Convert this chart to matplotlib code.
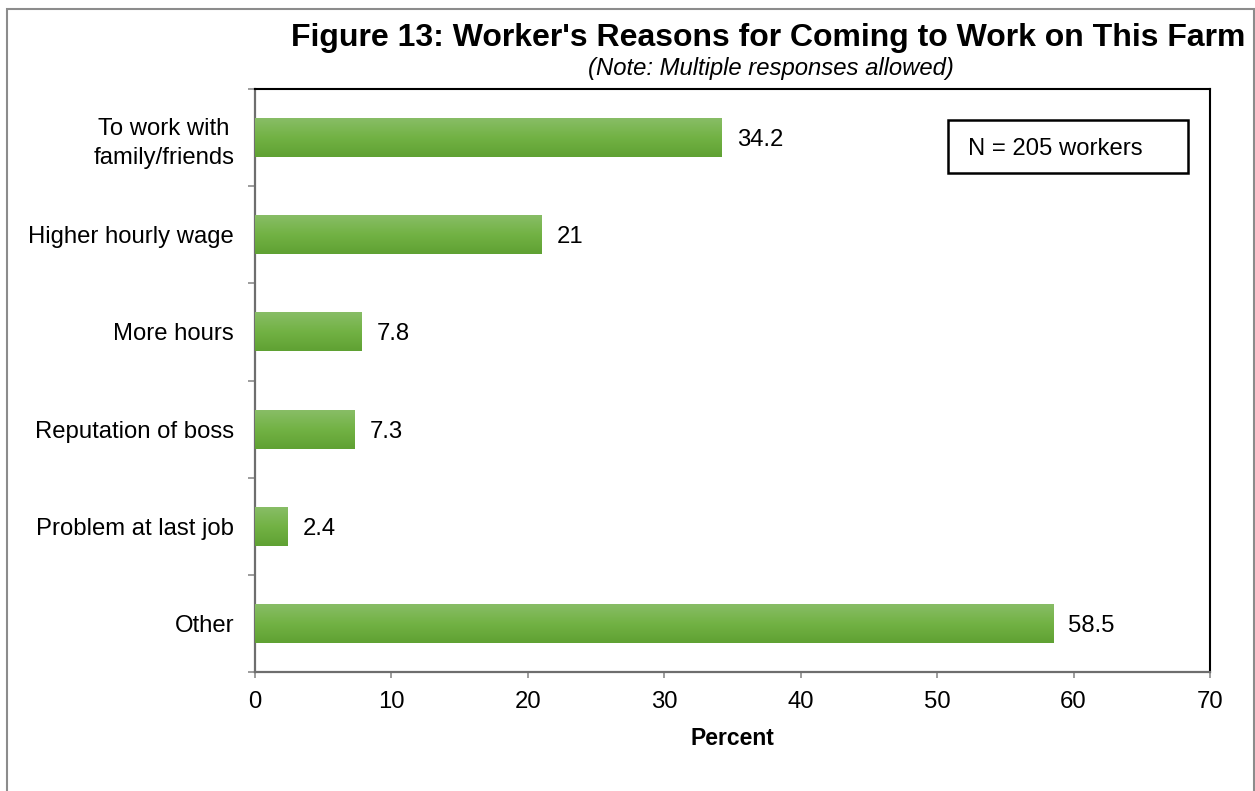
import numpy as np
import matplotlib
matplotlib.use("Agg")
import matplotlib.pyplot as plt
from matplotlib.colors import LinearSegmentedColormap
from matplotlib.patches import Rectangle

# chart data
reasons = ["To work with\nfamily/friends", "Higher hourly wage", "More hours",
           "Reputation of boss", "Problem at last job", "Other"]
percent = [34.2, 21, 7.8, 7.3, 2.4, 58.5]
value_labels = ["34.2", "21", "7.8", "7.3", "2.4", "58.5"]
xticks = [0, 10, 20, 30, 40, 50, 60, 70]

plt.rcParams['font.family'] = ['Liberation Sans', 'DejaVu Sans']

FS = 17.2


def main():
    fig = plt.figure(figsize=(12.55, 7.91), dpi=100)
    ax = fig.add_axes([0.2032, 0.1504, 0.7609, 0.7371])

    # green gradient for the bars, light at top, darker at bottom
    green = LinearSegmentedColormap.from_list("grn", ["#88BD66", "#72B244", "#5FA133"])
    grad = np.linspace(0, 1, 64).reshape(-1, 1)

    ypos = np.arange(len(reasons))
    bars = ax.barh(ypos, percent, height=0.4, color="#70B040", zorder=2)
    for b in bars:
        x0, y0 = b.get_x(), b.get_y()
        im = ax.imshow(grad, extent=[x0, x0 + b.get_width(), y0, y0 + b.get_height()],
                       origin='lower', aspect='auto', cmap=green, zorder=3)
        im.set_clip_path(b)

    for y, v, lab in zip(ypos, percent, value_labels):
        ax.annotate(lab, (v, y), xytext=(11, 0), textcoords='offset points',
                    ha='left', va='center_baseline', fontsize=FS)

    ax.set_xlim(0, 70)
    ax.set_ylim(len(reasons) - 0.5, -0.5)
    ax.set_xticks(xticks)
    ax.set_xticklabels([str(t) for t in xticks], fontsize=FS)
    ax.set_yticks(ypos)
    ax.set_yticklabels(reasons, fontsize=FS, multialignment='center', linespacing=1.4)
    ax.set_yticks(np.arange(len(reasons) + 1) - 0.5, minor=True)
    ax.tick_params(axis='y', which='major', length=0, pad=15)
    ax.tick_params(axis='y', which='minor', length=5, width=1.2, color='#8c8c8c')
    ax.tick_params(axis='x', length=4.5, width=1.2, color='#8c8c8c', pad=9)

    for s in ['left', 'bottom']:
        ax.spines[s].set_color('#6e6e6e')
        ax.spines[s].set_linewidth(1.6)
    for s in ['top', 'right']:
        ax.spines[s].set_color('black')
        ax.spines[s].set_linewidth(1.5)

    ax.set_xlabel("Percent", fontsize=16.5, fontweight='bold', labelpad=10)

    # N box
    ax.add_patch(Rectangle((0.7257, 0.856), 0.2513, 0.0908, transform=ax.transAxes,
                           facecolor='white', edgecolor='black', lw=1.8, zorder=4))
    ax.text(0.7466, 0.902, "N = 205 workers", transform=ax.transAxes, fontsize=FS,
            ha='left', va='center_baseline', zorder=5)

    fig.text(0.992, 0.952, "Figure 13: Worker's Reasons for Coming to Work on This Farm",
             ha='right', va='center', fontsize=23.0, fontweight='bold')
    fig.text(0.614, 0.914, "(Note: Multiple responses allowed)", ha='center', va='center',
             fontsize=FS, style='italic')

    # outer chart border
    fig.add_artist(Rectangle((0.0056, -0.05), 0.9936, 1.0386, transform=fig.transFigure,
                             fill=False, edgecolor='#8c8c8c', lw=1.5))

    fig.savefig("out.png", dpi=100)


if __name__ == "__main__":
    main()
